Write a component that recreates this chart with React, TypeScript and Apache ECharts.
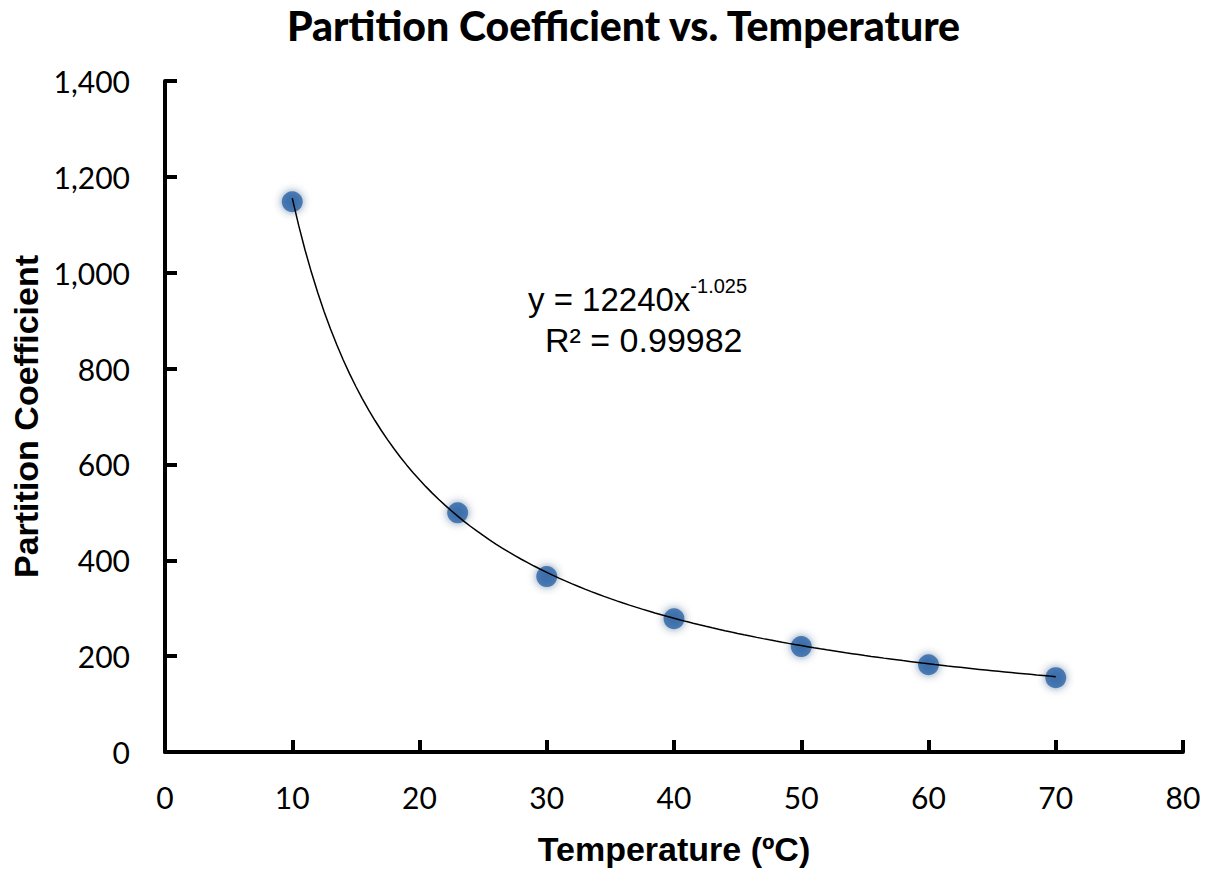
import React, { useEffect, useRef } from "react";
import * as echarts from "echarts";

const TITLE = "Partition Coefficient vs. Temperature";
const X_NAME = "Temperature (ºC)";
const Y_NAME = "Partition Coefficient";
const TEMPERATURES = [10, 23, 30, 40, 50, 60, 70];
const COEFFICIENTS = [1148, 499, 366, 278, 220, 182, 155];
// Power trendline y = A * x^B as stated on the chart
const TREND_A = 12240;
const TREND_B = -1.025;
const R2 = "0.99982";

export default function App() {
  const ref = useRef<HTMLDivElement>(null);
  useEffect(() => {
    if (!ref.current) return;
    const chart = echarts.init(ref.current, null, { renderer: "svg" });
    const trend: number[][] = [];
    const x0 = TEMPERATURES[0];
    const x1 = TEMPERATURES[TEMPERATURES.length - 1];
    for (let x = x0; x <= x1 + 1e-9; x += 0.5) {
      trend.push([x, TREND_A * Math.pow(x, TREND_B)]);
    }
    const font = "Lato, 'Open Sans', sans-serif";
    const arial = "'Liberation Sans', Arial, sans-serif";
    chart.setOption({
      animation: false,
      backgroundColor: "#ffffff",
      title: {
        text: TITLE,
        left: 282,
        top: 0,
        textStyle: { fontFamily: font, fontWeight: 900, fontSize: 41, color: "#000" },
      },
      grid: { left: 165, right: 29, top: 81, bottom: 118, containLabel: false, outerBoundsMode: "none" },
      xAxis: {
        type: "value",
        min: 0,
        max: 80,
        interval: 10,
        name: X_NAME,
        nameLocation: "middle",
        nameGap: 80,
        nameTextStyle: { fontFamily: arial, fontWeight: "bold", fontSize: 34, color: "#000" },
        axisLine: { lineStyle: { color: "#000", width: 4 } },
        axisTick: { inside: true, length: 12, lineStyle: { color: "#000", width: 4 } },
        axisLabel: { fontFamily: font, fontSize: 30, color: "#000", margin: 30 },
        splitLine: { show: false },
      },
      yAxis: {
        type: "value",
        min: 0,
        max: 1400,
        interval: 200,
        name: Y_NAME,
        nameLocation: "middle",
        nameGap: 120,
        nameTextStyle: { fontFamily: arial, fontWeight: "bold", fontSize: 34, color: "#000" },
        axisLine: { show: true, lineStyle: { color: "#000", width: 4 } },
        axisTick: { show: true, inside: true, length: 12, lineStyle: { color: "#000", width: 4 } },
        axisLabel: {
          fontFamily: font,
          fontSize: 30,
          color: "#000",
          margin: 35,
          formatter: (v: number) => v.toLocaleString("en-US"),
        },
        splitLine: { show: false },
      },
      series: [
        {
          type: "line",
          data: trend,
          showSymbol: false,
          symbol: "none",
          smooth: false,
          lineStyle: { color: "#000", width: 1.5 },
          z: 3,
        },
        {
          type: "scatter",
          data: TEMPERATURES.map((t, i) => [t, COEFFICIENTS[i]]),
          symbolSize: 21,
          itemStyle: {
            color: "#2a64a8",
            shadowBlur: 8,
            shadowColor: "rgba(30,60,110,0.7)",
          },
          z: 2,
        },
      ],
      graphic: [
        {
          type: "text",
          left: 528,
          top: 276,
          style: {
            text: "{b|y = 12240x}{s|-1.025}",
            rich: {
              b: { fontFamily: arial, fontSize: 33, fill: "#000", verticalAlign: "bottom", lineHeight: 40 },
              s: { fontFamily: arial, fontSize: 20, fill: "#000", verticalAlign: "top", lineHeight: 40, padding: [0, 0, 16, 0] },
            },
          },
        },
        {
          type: "text",
          left: 545,
          top: 323,
          style: {
            text: "R² = " + R2,
            fontFamily: arial,
            fontSize: 34,
            fill: "#000",
          },
        },
      ],
    });
    return () => chart.dispose();
  }, []);
  return <div ref={ref} style={{ width: 1212, height: 870, position: "absolute", left: 0, top: 0 }} />;
}
